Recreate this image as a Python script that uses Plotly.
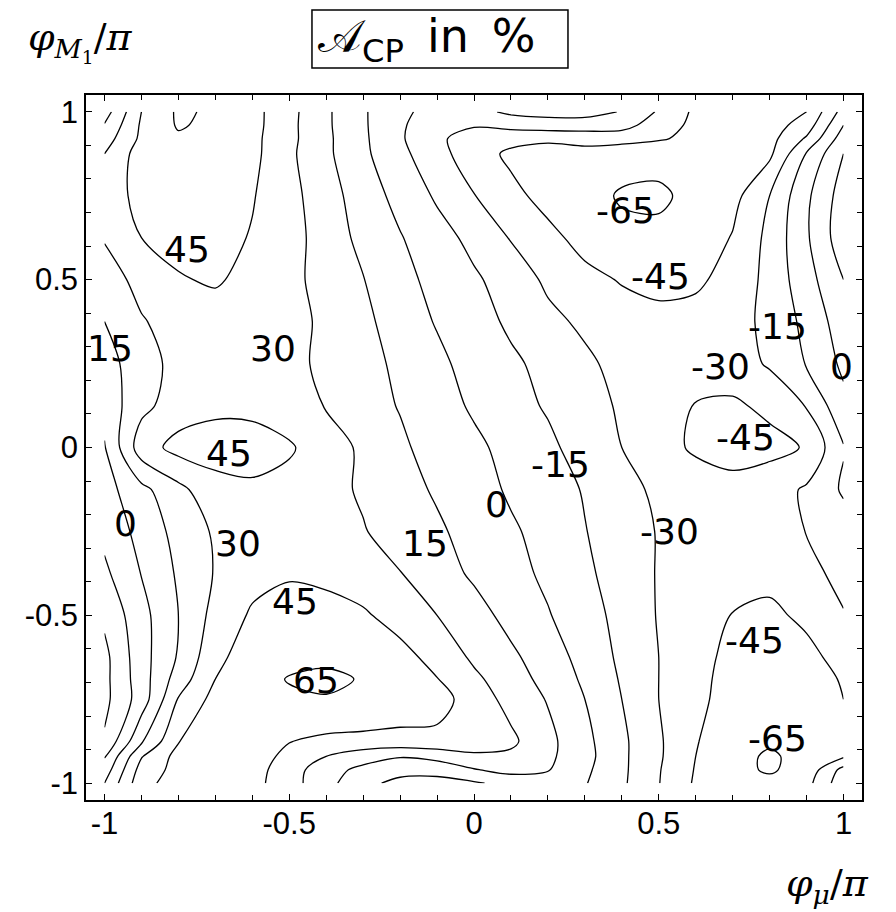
import plotly.graph_objects as go

# Grid of A_CP values (%)
x_vals = [-1.0, -0.9, -0.8, -0.7, -0.6, -0.5, -0.4, -0.3, -0.2, -0.1, 0.0,
          0.1, 0.2, 0.3, 0.4, 0.5, 0.6, 0.7, 0.8, 0.9, 1.0]
y_vals = [-1.0, -0.96, -0.92, -0.875, -0.75, -0.69, -0.625, -0.5, -0.375, -0.25,
          -0.125, 0.0, 0.125, 0.25, 0.375, 0.5, 0.625, 0.75, 0.875, 0.92, 0.96, 1.0]

row_m100 = [0, 40, 52, 55, 50, 36, 20, 4, -4, -5, -2, 5, 6, 1, -12.5, -29.5, -47, -55, -58, -50, -20]
row_m096 = [-8, 36, 50, 55, 51, 37, 21, 11, 5, 5, 14, 20, 16, 3, -12, -29, -46, -58, -68, -55, -25]
row_m092 = [-16, 29, 50, 56, 52, 41, 30, 22, 16, 20, 27, 27, 18, 5, -12, -28, -45, -58, -68, -58, -47]
row_m0875 = [-28, 13, 44.5, 52, 50, 45.5, 41, 40, 40, 41, 39, 33, 19, 4, -12, -28, -44, -55, -62, -58, -50]
row_m075 = [-34, -8, 31, 50, 57, 62, 64, 61, 55, 51, 38, 25, 14, 0, -15, -30, -42, -50, -55, -52, -45]
row_m069 = [-34, -7, 22, 45, 58, 66, 68, 64, 56, 45.5, 33, 22, 10, -2.5, -16.5, -30, -41, -50, -54, -50, -44]
row_m0625 = [-34, -6, 16.5, 41, 53, 60, 62, 57, 50, 40, 27.5, 18, 7, -5, -18, -30, -40, -49, -52, -49, -40]
row_m050 = [-27, -5, 15, 35, 47, 51, 51, 47, 39, 30, 21, 10, 1, -9, -19.5, -31, -38, -45.5, -48, -42, -31]
row_m0375 = [-18, 0.5, 17, 31, 40, 43.5, 41, 37, 30.5, 22, 12.5, 5, -3, -12, -22, -31, -36, -40, -41, -35, -25]
row_m025 = [-11, 5, 20, 32, 37, 38, 35, 31, 23, 17.5, 9, 2, -5, -14.5, -22, -31, -36, -39, -38, -29.5, -22]
row_m0125 = [-6, 11, 26, 40, 43, 41, 35, 28, 21, 13, 6, -2, -9, -16, -25, -33, -38, -40, -37, -28, -13]
row_000 = [-1, 38, 50, 51, 50, 46.5, 38, 27, 18, 8, 3, -4.5, -12, -21, -30, -40, -47, -51, -49, -44, -16]
row_p0125 = [5, 26, 37, 42, 42, 38, 29, 22, 14, 6, -2, -10, -16.5, -24, -32, -39, -45.5, -47, -42, -29, -4]
row_p025 = [10, 22, 36, 39, 40, 35, 26, 20, 12, 3, -5, -12, -20, -27, -35, -40, -41, -38, -28, -14, 3]
row_p0375 = [15, 29, 35, 39, 39, 35, 27, 19, 7, -1, -8, -18, -26, -33, -39, -42, -41, -36, -26, -11, 8]
row_p050 = [24, 34, 44, 46.5, 41, 33, 26, 15.5, 5, -5, -13, -21, -33, -41, -46, -48, -47, -41, -25, -6, 15]
row_p0625 = [31, 45, 49, 50, 44, 36, 23, 11, 1, -9.5, -19, -31, -41, -50, -60, -61, -55, -44, -26, -2, 24]
row_p075 = [38, 49, 53, 53, 46, 35, 21, 8, -5, -17, -29.5, -41, -50, -58, -67, -68, -60, -50, -30, -3, 22]
row_p0875 = [30, 52, 57, 56, 49, 33, 18, 3, -11, -25, -38, -48, -52, -50, -57, -59, -57, -55, -48, -14, 15]
row_p092 = [23, 48, 62, 59, 49, 34, 18, 2.5, -13, -28, -35, -40, -42, -40, -38, -43, -50, -54, -50, -28, 8]
row_p096 = [16, 47, 67, 60, 50, 34, 17.5, 2, -13, -24, -29, -25, -22, -22, -25, -37, -49, -52, -52, -38, 0]
row_p100 = [8, 45, 68, 62, 50, 34.5, 17.5, 1.6, -11, -22, -20, -12, -10, -10, -15.8, -31.7, -48, -52, -50, -45, -9]

z_grid = [row_m100, row_m096, row_m092, row_m0875, row_m075, row_m069, row_m0625,
          row_m050, row_m0375, row_m025, row_m0125, row_000, row_p0125, row_p025,
          row_p0375, row_p050, row_p0625, row_p075, row_p0875, row_p092, row_p096, row_p100]

# Contour labels (text and where they sit)
label_text = ["45", "15", "30", "45", "0", "30", "45", "65", "15", "0", "-15",
              "-30", "-45", "-65", "-65", "-45", "-15", "-30", "0", "-45"]
label_x = [-0.778, -0.984, -0.545, -0.664, -0.943, -0.64, -0.485, -0.428, -0.133, 0.062,
           0.235, 0.528, 0.759, 0.821, 0.409, 0.504, 0.821, 0.667, 0.995, 0.734]
label_y = [0.589, 0.296, 0.296, -0.017, -0.225, -0.285, -0.458, -0.695, -0.285, -0.171,
           -0.052, -0.251, -0.574, -0.866, 0.705, 0.508, 0.359, 0.24, 0.24, 0.031]

tick_vals = [-1, -0.5, 0, 0.5, 1]
tick_text = ["-1", "-0.5", "0", "0.5", "1"]

black = [[0, "black"], [1, "black"]]
fig = go.Figure()
fig.add_trace(go.Contour(
    x=x_vals, y=y_vals, z=z_grid, autocontour=False,
    contours=dict(coloring="lines", start=-45, end=45, size=15, showlabels=False),
    line=dict(width=1.3, smoothing=0.9), colorscale=black, showscale=False,
    hoverinfo="skip"))
fig.add_trace(go.Contour(
    x=x_vals, y=y_vals, z=z_grid, autocontour=False,
    contours=dict(coloring="lines", start=-65, end=65, size=130, showlabels=False),
    line=dict(width=1.3, smoothing=0.9), colorscale=black, showscale=False,
    hoverinfo="skip"))

for t, lx, ly in zip(label_text, label_x, label_y):
    fig.add_annotation(x=lx, y=ly, xref="x", yref="y", text=t, showarrow=False,
                       xanchor="center", yanchor="middle",
                       font=dict(family="DejaVu Sans", size=36, color="black"))

axis_common = dict(
    range=[-1.05, 1.05], tickvals=tick_vals, ticktext=tick_text,
    ticks="inside", ticklen=6, tickwidth=1, tickcolor="black",
    showline=True, linecolor="black", linewidth=1.5, mirror="ticks",
    showgrid=False, zeroline=False,
    tickfont=dict(family="Liberation Sans", size=31, color="black"),
    minor=dict(dtick=0.1, tick0=0, ticks="inside", ticklen=5, tickcolor="black", showgrid=False),
)
fig.update_xaxes(**axis_common, ticklabelstandoff=-5)
fig.update_yaxes(**axis_common)

# Axis titles and the boxed plot title
fig.add_annotation(x=-0.0077, y=1.0752, xref="paper", yref="paper", showarrow=False,
                   xanchor="center", yanchor="middle",
                   text="<i>φ</i><sub><i>M</i><sub>1</sub></sub>/<i>π</i>",
                   font=dict(family="DejaVu Serif", size=38, color="black"))
fig.add_annotation(x=0.956, y=-0.1206, xref="paper", yref="paper", showarrow=False,
                   xanchor="center", yanchor="middle",
                   text="<i>φ</i><sub><i>μ</i></sub>/<i>π</i>",
                   font=dict(family="DejaVu Serif", size=38, color="black"))
fig.add_shape(type="rect", xref="paper", yref="paper", x0=0.2912, x1=0.6211, y0=1.0383, y1=1.1206,
              line=dict(color="black", width=1.5))
fig.add_annotation(x=0.2964, y=1.0794, xref="paper", yref="paper", showarrow=False,
                   xanchor="left", yanchor="middle",
                   text="𝒜<sub>CP</sub>\u2002in\u2002%",
                   font=dict(family="DejaVu Sans", size=46, color="black"))

fig.update_layout(width=888, height=904, margin=dict(l=78, r=34, t=87, b=112),
                  plot_bgcolor="white", paper_bgcolor="white", showlegend=False)
fig.write_html("out.html")
